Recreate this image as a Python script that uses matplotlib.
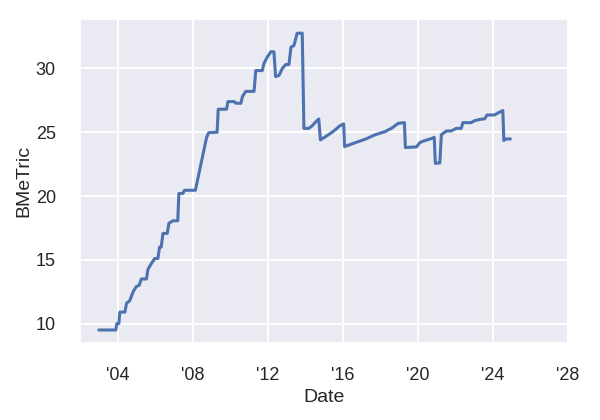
import matplotlib
matplotlib.use("Agg")
import matplotlib.pyplot as plt
import seaborn as sns

# decimal years
dates = [2003.0, 2003.91, 2003.96, 2004.07, 2004.12, 2004.39, 2004.48, 2004.65,
         2004.83, 2005.0, 2005.15, 2005.27, 2005.54, 2005.62, 2005.8, 2005.98,
         2006.15, 2006.24, 2006.33, 2006.42, 2006.65, 2006.74, 2006.95, 2007.21,
         2007.27, 2007.48, 2007.57, 2008.15, 2008.75, 2008.86, 2009.31, 2009.37,
         2009.81, 2009.89, 2010.22, 2010.31, 2010.58, 2010.66, 2010.84, 2011.28,
         2011.37, 2011.72, 2011.81, 2011.99, 2012.17, 2012.34, 2012.43, 2012.61,
         2012.79, 2012.97, 2013.14, 2013.25, 2013.41, 2013.58, 2013.85, 2013.94,
         2014.2, 2014.38, 2014.56, 2014.73, 2014.82, 2015.09, 2015.35, 2015.62,
         2015.85, 2016.06, 2016.11, 2016.68, 2017.21, 2017.74, 2018.27, 2018.6,
         2018.98, 2019.3, 2019.35, 2019.95, 2020.12, 2020.3, 2020.74, 2020.89,
         2020.95, 2021.19, 2021.27, 2021.54, 2021.8, 2022.07, 2022.33, 2022.42,
         2022.86, 2023.04, 2023.31, 2023.58, 2023.71, 2024.11, 2024.28, 2024.55,
         2024.6, 2024.72, 2024.95]
bmetric = [9.5, 9.5, 10.0, 10.0, 10.9, 10.9, 11.6, 11.8,
           12.5, 12.9, 13.0, 13.5, 13.5, 14.25, 14.7, 15.1,
           15.1, 16.0, 16.0, 17.07, 17.07, 17.86, 18.06, 18.06,
           20.2, 20.2, 20.45, 20.45, 24.6, 24.96, 25.0, 26.8,
           26.8, 27.4, 27.4, 27.27, 27.27, 27.8, 28.2, 28.2,
           29.83, 29.83, 30.4, 30.9, 31.3, 31.3, 29.36, 29.45,
           30.0, 30.3, 30.3, 31.66, 31.8, 32.76, 32.76, 25.3,
           25.3, 25.5, 25.8, 26.04, 24.4, 24.65, 24.9, 25.2,
           25.5, 25.65, 23.87, 24.18, 24.45, 24.8, 25.05, 25.3,
           25.7, 25.75, 23.8, 23.85, 24.18, 24.3, 24.5, 24.6,
           22.56, 22.6, 24.8, 25.1, 25.1, 25.3, 25.3, 25.75,
           25.75, 25.9, 26.0, 26.05, 26.35, 26.35, 26.5, 26.7,
           24.35, 24.47, 24.47]

xticks = [2004, 2008, 2012, 2016, 2020, 2024, 2028]
xticklabels = ["'04", "'08", "'12", "'16", "'20", "'24", "'28"]
yticks = [10, 15, 20, 25, 30]

sns.set_theme(style="darkgrid")
plt.rcParams['font.family'] = ['Liberation Sans', 'DejaVu Sans']

fig = plt.figure(figsize=(6, 4.2), dpi=100)
ax = fig.add_axes([0.1325, 0.183, 0.814, 0.772])

ax.plot(dates, bmetric, color="#4C72B0", linewidth=2.2)

ax.set_xlim(2001.97, 2028.02)
ax.set_ylim(8.47, 33.88)
ax.set_xticks(xticks)
ax.set_xticklabels(xticklabels)
ax.set_yticks(yticks)
ax.tick_params(axis="both", labelsize=13, pad=11, colors=".15")
ax.set_xlabel("Date", fontsize=14, color=".15", labelpad=4)
ax.set_ylabel("BMeTric", fontsize=14, color=".15", labelpad=2.5)
ax.grid(color="white", linewidth=1.4)

fig.savefig("out.png", dpi=100)
